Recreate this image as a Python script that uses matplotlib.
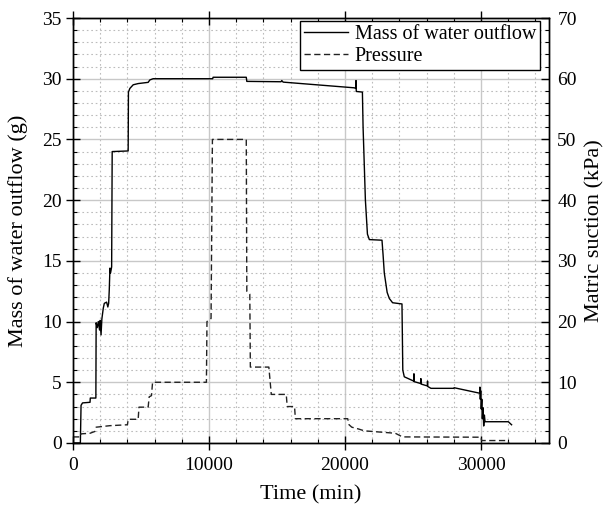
import matplotlib
matplotlib.use("Agg")
import matplotlib.pyplot as plt
from matplotlib.ticker import MultipleLocator

plt.rcParams['font.family'] = ['Liberation Serif', 'DejaVu Serif']
plt.rcParams['mathtext.fontset'] = 'stix'

# mass of water outflow (g) vs time (min)
mass_time = [0, 540, 590, 700, 1250, 1270, 1680, 1700, 1780, 1860, 1950, 2000, 2060,
             2120, 2225, 2300, 2470, 2560, 2620, 2665, 2715, 2760, 2840, 2880, 4055,
             4075, 4180, 4425, 4790, 5525, 5650, 5890, 10270, 10300, 12740, 12780,
             15300, 15350, 15450, 20690, 20780, 20810, 20830, 21280, 21330, 21500,
             21650, 21790, 22720, 22800, 22890, 23100, 23260, 23500, 24190, 24250,
             24360, 25050, 25070, 25090, 25560, 25580, 25600, 26050, 26070, 26090,
             26320, 28000, 28030, 29900, 29920, 29950, 29980, 30020, 30060, 30100,
             30150, 30200, 30250, 30300, 32010, 32250]
mass_g = [0.0, 0.0, 3.1, 3.3, 3.35, 3.7, 3.7, 9.9, 9.5, 10.0, 9.3, 10.1, 8.9,
          10.2, 11.1, 11.5, 11.6, 11.2, 11.5, 12.6, 14.4, 14.0, 14.5, 24.0, 24.05,
          28.9, 29.2, 29.5, 29.6, 29.7, 29.9, 30.0, 30.0, 30.12, 30.12, 29.78,
          29.75, 29.85, 29.72, 29.25, 29.2, 29.85, 28.95, 28.9, 26.0, 20.0,
          17.2, 16.75, 16.7, 15.5, 14.0, 12.4, 11.9, 11.55, 11.45, 6.0,
          5.45, 5.1, 5.7, 5.05, 4.9, 5.3, 4.85, 4.7, 5.1, 4.65,
          4.5, 4.5, 4.55, 4.1, 4.6, 3.6, 4.3, 2.8, 3.6, 2.0,
          2.9, 1.4, 2.3, 1.75, 1.75, 1.5]

# applied pressure / matric suction (kPa)
pres_time = [0, 565, 575, 1250, 1610, 1700, 2715, 4000, 4060, 4790, 4850, 5525,
             5600, 5770, 5850, 9810, 9850, 10150, 10250, 12740, 12780, 13000,
             13040, 14400, 14580, 15680, 15750, 16290, 16350, 20200, 20300, 20500,
             21000, 21420, 23700, 24230, 29990, 30050, 31940, 32060]
pres_kpa = [1.0, 1.0, 1.5, 1.6, 1.9, 2.6, 2.85, 3.0, 3.9, 3.9, 5.9, 5.9,
            7.6, 7.8, 10.0, 10.0, 20.0, 20.5, 50.0, 50.0, 25.0, 24.5,
            12.5, 12.5, 8.0, 8.0, 6.0, 6.0, 4.0, 4.0, 3.0, 2.6,
            2.3, 2.0, 1.6, 1.0, 0.95, 0.4, 0.4, 0.0]

fig = plt.figure(figsize=(6.05, 5.13), dpi=100)
ax = fig.add_axes([0.1207, 0.1365, 0.7867, 0.8284])
ax2 = ax.twinx()

l1, = ax.plot(mass_time, mass_g, color='black', lw=1.0, label='Mass of water outflow')
l2, = ax2.plot(pres_time, pres_kpa, color='#222222', lw=1.0,
               linestyle=(0, (4.5, 2.5)), label='Pressure')

ax.set_xlim(0, 35000)
ax.set_ylim(0, 35)
ax2.set_ylim(0, 70)

ax.xaxis.set_major_locator(MultipleLocator(10000))
ax.xaxis.set_minor_locator(MultipleLocator(2000))
ax.yaxis.set_major_locator(MultipleLocator(5))
ax.yaxis.set_minor_locator(MultipleLocator(1))
ax2.yaxis.set_major_locator(MultipleLocator(10))
ax2.yaxis.set_minor_locator(MultipleLocator(2))

# grid
ax.grid(which='major', color='#c8c8c8', lw=1.0, linestyle='-')
ax.grid(which='minor', color='#bcbcbc', lw=0.8, linestyle=(0, (1.5, 2.5)))
ax.set_axisbelow(True)

ax.tick_params(axis='both', which='major', direction='inout', length=10, width=1.0,
               labelsize=14, pad=3, top=True, right=False)
ax.tick_params(axis='both', which='minor', direction='in', length=3, width=0.8,
               top=True, right=False)
ax.tick_params(axis='x', which='major', pad=5)
ax2.tick_params(axis='y', which='major', direction='in', length=6, width=1.0,
                labelsize=14, pad=6)
ax2.tick_params(axis='y', which='minor', direction='in', length=3, width=0.8)

for a in (ax, ax2):
    for s in a.spines.values():
        s.set_linewidth(1.0)

ax.set_xlabel('Time (min)', fontsize=16, labelpad=8)
ax.set_ylabel('Mass of water outflow (g)', fontsize=16, labelpad=10)
ax2.set_ylabel('Matric suction (kPa)', fontsize=16, labelpad=6)

leg = ax2.legend(handles=[l1, l2], loc='upper right', bbox_to_anchor=(0.981, 0.993),
                 borderaxespad=0, fontsize=14.5, frameon=True, fancybox=False,
                 edgecolor='black', framealpha=1, handlelength=2.2,
                 handletextpad=0.3, labelspacing=0.15, borderpad=0.2)
leg.get_frame().set_linewidth(1.0)

fig.savefig('out.png', dpi=100)
